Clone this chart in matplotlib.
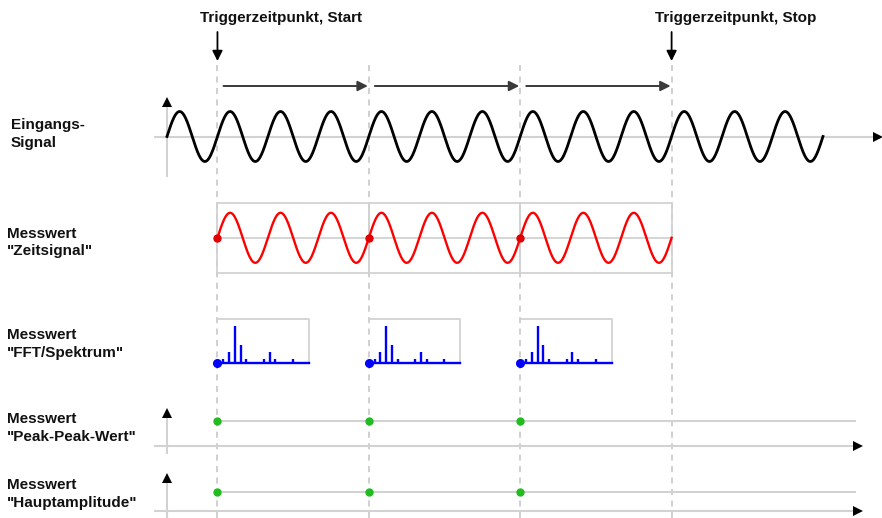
import numpy as np
import matplotlib
matplotlib.use("Agg")
import matplotlib.pyplot as plt

# ---------------- data ----------------
input_periods = 13                      # periods of the input signal
trigger_periods = [1, 4, 7, 10]         # trigger instants (in signal periods)
window_periods = 3                      # length of one measurement window
spectrum_bins = [1, 2, 3, 4, 5, 8, 9, 10, 13]
spectrum_amp = [0.12, 0.30, 1.00, 0.48, 0.12, 0.12, 0.30, 0.12, 0.12]
peak_peak_values = [1, 1, 1]
main_amp_values = [1, 1, 1]
row_labels = ['Eingangs-\nSignal', 'Messwert\n"Zeitsignal"', 'Messwert\n"FFT/Spektrum"',
              'Messwert\n"Peak-Peak-Wert"', 'Messwert\n"Hauptamplitude"']
trigger_texts = ['Triggerzeitpunkt, Start', 'Triggerzeitpunkt, Stop']

# ---------------- layout ----------------
W, H = 882, 518
X0 = 167.0          # pixel x of t = 0
P = 50.46           # pixels per period
def tx(t):
    return X0 + np.asarray(t, dtype=float) * P

plt.rcParams['font.family'] = ['Liberation Sans', 'DejaVu Sans']
fig = plt.figure(figsize=(W / 100, H / 100), dpi=100)
ax = fig.add_axes([0, 0, 1, 1])
ax.set_xlim(0, W)
ax.set_ylim(H, 0)
ax.axis('off')

GRID = '#d2d2d2'
DASH = '#c4c4c4'

def arrow_head(x, y, direction, size=6.5):
    m = {'right': '>', 'up': '^'}[direction]
    off = size * 0.69
    if direction == 'right':
        ax.plot(x - off, y, marker=m, ms=size, color='black', mec='black', mew=0, zorder=5)
    else:
        ax.plot(x, y + off, marker=m, ms=size, color='black', mec='black', mew=0, zorder=5)

# dashed trigger lines
for tp in trigger_periods:
    ax.plot([tx(tp), tx(tp)], [65, H], color=DASH, lw=1.1, dashes=(4, 3.5), zorder=1)

# trigger annotations
for tp, txt in zip([trigger_periods[0], trigger_periods[-1]], trigger_texts):
    ax.text(tx(tp) - 17, 18, txt, fontsize=11, fontweight='bold', ha='left', va='center', color='#111111')
    ax.annotate('', xy=(tx(tp), 61), xytext=(tx(tp), 32),
                arrowprops=dict(arrowstyle='-|>', color='black', lw=1.3, mutation_scale=15,
                                shrinkA=0, shrinkB=0))

# horizontal window arrows
for a, b in zip(trigger_periods[:-1], trigger_periods[1:]):
    ax.annotate('', xy=(tx(b) - 1, 86), xytext=(tx(a) + 6, 86),
                arrowprops=dict(arrowstyle='-|>', color='#3a3a3a', lw=1.4, mutation_scale=15,
                                shrinkA=0, shrinkB=0))

# ---------------- input signal ----------------
yc, amp = 136.5, 25.0
ax.plot([155, 876], [yc, yc], color=GRID, lw=1.5, zorder=2)
arrow_head(882, yc, 'right')
ax.plot([X0, X0], [176, 104], color=GRID, lw=1.5, zorder=2)
arrow_head(X0, 98, 'up')
t = np.linspace(0, input_periods, 3000)
ax.plot(tx(t), yc - amp * np.sin(2 * np.pi * t), color='black', lw=2.0, zorder=4)

# ---------------- time-signal windows ----------------
ytop, ybot, ymid = 202.5, 273.0, 237.8
for a in trigger_periods[:-1]:
    b = a + window_periods
    ax.plot([tx(a), tx(b), tx(b), tx(a), tx(a)], [ytop, ytop, ybot, ybot, ytop], color=GRID, lw=1.3, zorder=2)
    ax.plot([tx(a), tx(b)], [ymid, ymid], color=GRID, lw=1.3, zorder=2)
    tt = np.linspace(0, window_periods, 800)
    ax.plot(tx(a + tt), ymid - amp * np.sin(2 * np.pi * tt), color='#ff0000', lw=1.7, zorder=4)
    ax.plot(tx(a), ymid, 'o', color='#e00000', ms=5, zorder=5)

# ---------------- spectrum windows ----------------
sb_top, sb_base, sb_w = 318.5, 363.0, 91.5
bin_px = 5.8
hmax = 37.0
for a in trigger_periods[:-1]:
    x0 = tx(a)
    ax.plot([x0, x0 + sb_w, x0 + sb_w, x0], [sb_base, sb_base, sb_top, sb_top], color=GRID, lw=1.3, zorder=2)
    xs = x0 + np.array(spectrum_bins) * bin_px
    ax.vlines(xs, sb_base, sb_base - np.array(spectrum_amp) * hmax, color='#0000ff', lw=1.7, zorder=4)
    ax.plot([x0, x0 + sb_w], [sb_base, sb_base], color='#0000ff', lw=1.7, zorder=4)
    ax.plot(x0, sb_base, 'o', color='#0000ff', ms=5.5, zorder=5)

# ---------------- scalar value rows ----------------
for vals, ydot, yaxis, ytip, ybottom in [(peak_peak_values, 420.5, 446.0, 409, 453),
                                         (main_amp_values, 491.5, 511.0, 474, 518)]:
    ax.plot([155, 856], [yaxis, yaxis], color=GRID, lw=1.5, zorder=2)
    arrow_head(862, yaxis, 'right')
    ax.plot([X0, X0], [ybottom, ytip + 6], color=GRID, lw=1.5, zorder=2)
    arrow_head(X0, ytip, 'up')
    ax.plot([tx(trigger_periods[0]), 855], [ydot, ydot], color=GRID, lw=1.5, zorder=2)
    ax.plot(tx(trigger_periods[:-1]), [ydot for v in vals], 'o', color='#22bb22',
            mec='#22bb22', ms=5, zorder=5, ls='none')

# ---------------- row labels ----------------
label_pos = [(11, 134), (7, 242.5), (7, 344), (7, 428), (7, 494)]
for (lx, ly), lab in zip(label_pos, row_labels):
    ax.text(lx, ly, lab, fontsize=11, fontweight='bold', ha='left', va='center',
            color='#111111', linespacing=1.3)

fig.savefig('out.png', dpi=100)
